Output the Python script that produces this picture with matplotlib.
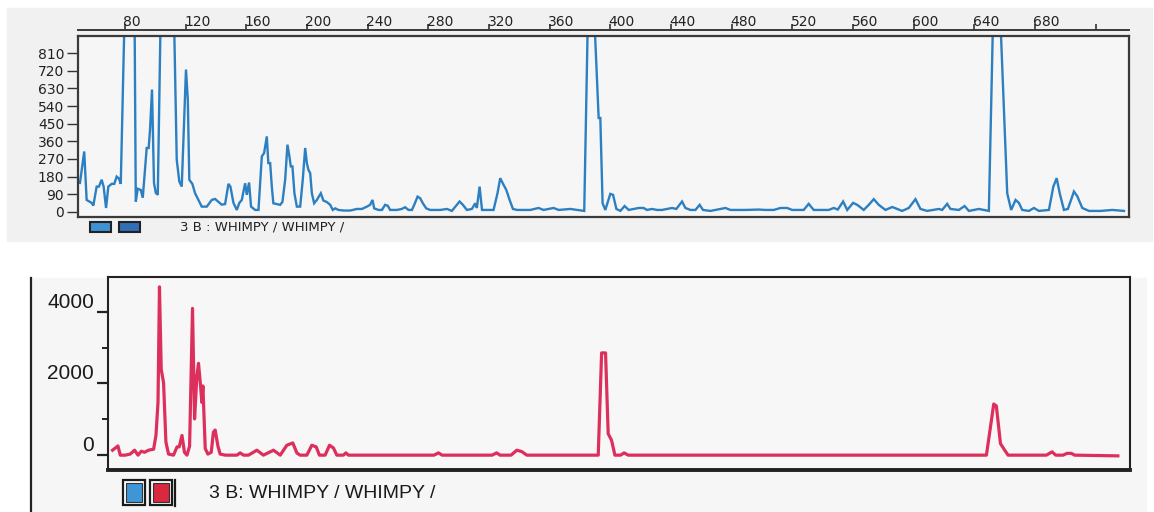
import matplotlib
matplotlib.use("Agg")
import matplotlib.pyplot as plt
from matplotlib.patches import Rectangle
from matplotlib.lines import Line2D

# blue channel (top trace), size in bp and signal (off-scale peaks clipped by the axis)
top_bp = [50.3, 53.1, 54.7, 58.0, 59.1, 61.3, 62.8, 64.6, 65.9, 67.5, 69.0, 71.2, 72.9, 74.5, 76.0, 77.2,
          79.7, 86.3, 87.1, 88.4, 90.4, 91.7, 93.2, 94.3, 95.6, 96.5, 97.8, 99.1, 100.3, 101.6,
          103.5, 112.3, 114.1, 115.8, 117.4, 120.2, 121.4, 122.4, 124.4, 126.2, 128.4, 130.6, 133.9,
          137.2, 139.4, 141.6, 143.8, 146.0, 148.2, 149.5, 151.5, 153.7, 155.4, 157.0, 159.2, 160.3,
          161.8, 163.1, 165.8, 168.0, 170.2, 171.7, 173.5, 174.5, 175.7, 176.8, 177.8, 180.1, 182.3,
          183.8, 185.6, 187.1, 188.4, 189.3, 190.4, 191.7, 193.3, 195.5, 197.2, 198.8, 199.9, 200.9,
          202.1, 203.2, 204.7, 206.5, 209.1, 210.8, 213.1, 215.3, 217.0, 218.6, 220.7, 224.0, 228.5,
          232.9, 236.2, 239.5, 241.6, 243.2, 244.3, 247.1, 249.4, 251.5, 253.3, 254.8, 259.3, 262.5,
          264.7, 266.9, 269.2, 270.7, 272.9, 274.6, 276.4, 278.6, 281.2, 287.8, 292.3, 295.5, 300.6,
          302.8, 305.4, 308.7, 310.9, 312.0, 313.8, 315.4, 323.0, 325.6, 327.4, 329.6, 331.4, 333.6,
          335.8, 338.5, 342.8, 347.2, 352.7, 356.0, 362.6, 365.9, 373.6, 378.0, 382.8, 385.2, 389.4,
          392.3, 393.4, 394.9, 396.7, 400.0, 401.8, 404.0, 406.6, 409.4, 412.1, 415.4, 418.7, 422.0,
          424.2, 427.5, 430.8, 434.1, 437.4, 440.7, 443.5, 447.3, 449.5, 452.8, 456.1, 458.9, 461.1,
          466.0, 472.6, 475.9, 479.2, 489.1, 497.9, 502.3, 507.7, 512.2, 516.6, 519.9, 527.5, 530.8,
          534.1, 544.0, 547.3, 550.0, 553.5, 556.2, 560.1, 562.8, 567.1, 570.4, 573.7, 577.0, 581.4,
          585.9, 589.1, 592.4, 596.8, 601.2, 604.5, 608.9, 616.6, 618.8, 622.1, 624.3, 629.8, 633.6,
          636.4, 643.0, 646.3, 649.6, 652.4, 657.1, 661.7, 664.3, 667.2, 669.4, 671.6, 676.0, 679.3,
          682.6, 689.2, 692.1, 694.3, 696.4, 699.1, 701.7, 705.7, 707.9, 711.2, 715.6, 723.3, 731.0,
          738.7]
top_signal = [148, 308, 61, 46, 32, 129, 129, 164, 129, 20, 129, 143, 143, 180, 170, 143,
              1000, 1000, 53, 118, 112, 72, 215, 326, 326, 420, 624, 148, 97, 87,
              1000, 1000, 266, 155, 129, 726, 573, 164, 143, 95, 61, 27, 27,
              61, 66, 51, 37, 40, 143, 129, 46, 10, 46, 61, 146, 87,
              150, 27, 10, 10, 283, 300, 385, 249, 249, 129, 44, 40, 36,
              51, 164, 343, 283, 232, 232, 95, 27, 27, 164, 326, 249, 215,
              198, 95, 44, 61, 95, 58, 50, 36, 10, 18, 10, 7, 7,
              15, 15, 27, 36, 61, 18, 10, 10, 36, 31, 10, 10, 15,
              24, 10, 10, 36, 78, 70, 44, 18, 10, 10, 15, 5, 53,
              36, 10, 15, 44, 20, 129, 10, 10, 95, 172, 138, 112, 61,
              15, 10, 10, 10, 20, 10, 20, 10, 15, 10, 5, 1000, 1000,
              479, 479, 44, 10, 92, 87, 15, 5, 30, 10, 15, 20, 20,
              10, 15, 10, 10, 15, 20, 15, 53, 20, 10, 10, 36, 10,
              5, 15, 20, 10, 10, 12, 10, 10, 20, 20, 10, 10, 41,
              10, 10, 20, 12, 53, 10, 46, 36, 10, 36, 65, 36, 10,
              25, 15, 5, 20, 65, 15, 5, 15, 10, 41, 15, 10, 30,
              5, 15, 10, 5, 1000, 1000, 95, 10, 61, 46, 10, 5, 20,
              5, 10, 129, 172, 92, 10, 15, 104, 80, 20, 5, 5, 10,
              5]

# red channel (bottom trace)
bottom_bp = [52.1, 55.8, 57.4, 60.8, 64.2, 67.2, 69.5, 71.8, 74.0, 76.7, 80.2, 81.8, 83.2, 84.2,
             85.4, 87.0, 88.6, 90.4, 93.8, 96.2, 97.7, 99.6, 101.3, 103.0, 104.8, 106.8, 108.2,
             109.8, 110.9, 112.3, 113.2, 113.9, 115.5, 117.3, 119.6, 121.1, 122.3, 124.2, 125.7,
             129.2, 133.7, 137.2, 139.4, 141.7, 145.1, 150.8, 155.3, 162.2, 166.8, 171.3, 175.4,
             178.2, 180.4, 185.0, 188.4, 191.4, 193.6, 197.5, 200.5, 203.2, 205.5, 210.0, 211.7,
             213.4, 272.0, 275.0, 277.5, 311.7, 314.8, 317.1, 324.7, 328.6, 332.0, 335.4, 384.3,
             386.6, 389.3, 391.1, 393.4, 395.7, 399.6, 402.0, 404.8, 649.8, 654.8, 656.6, 659.4,
             662.3, 664.6, 690.8, 694.7, 697.2, 702.2, 704.9, 707.9, 710.1, 739.7]
bottom_signal = [138, 257, 0, 0, 30, 138, 0, 110, 80, 138, 166, 552, 1470, 4690,
                 2390, 2020, 370, 30, 0, 230, 230, 550, 80, 0, 250, 4090, 1010,
                 2210, 2560, 1930, 1470, 1930, 185, 30, 80, 643, 700, 250, 30,
                 0, 0, 0, 63, 0, 0, 138, 0, 138, 0, 276, 340,
                 60, 0, 0, 276, 230, 0, 0, 276, 200, 0, 0, 63,
                 0, 0, 63, 0, 0, 63, 0, 0, 138, 100, 0, 0,
                 2850, 2850, 600, 414, 0, 0, 63, 0, 0, 1425, 1370, 322,
                 138, 0, 0, 92, 0, 0, 50, 50, 0, -20]

top_yticks = [0, 90, 180, 270, 360, 450, 540, 630, 720, 810]
top_xticks = [80, 120, 160, 200, 240, 280, 320, 360, 400, 440, 480, 520, 560, 600, 640, 680, 720]
top_xlabels = ["80", "120", "160", "200", "240", "280", "320", "360", "400", "440", "480",
               "520", "560", "600", "640", "680", ""]
bottom_yticks = [0, 2000, 4000]
legend_text = "3 B : WHIMPY / WHIMPY /"

W, H = 1154, 512


def fx(x):
    return x / W


def fy(y):
    return 1 - y / H


fig = plt.figure(figsize=(W / 100, H / 100), dpi=100)
fig.patch.set_facecolor("white")

# scanned paper areas
fig.add_artist(Rectangle((fx(7), fy(241)), fx(1152) - fx(7), fy(8) - fy(241),
                         transform=fig.transFigure, color="#f1f1f1", zorder=0))
fig.add_artist(Rectangle((fx(31), fy(512)), fx(1146) - fx(31), fy(278) - fy(512),
                         transform=fig.transFigure, color="#f6f6f6", zorder=0))
fig.add_artist(Line2D([fx(31), fx(31)], [fy(278), fy(512)], transform=fig.transFigure,
                      color="#222222", lw=1.6))

# ---- top panel ----
ax1 = fig.add_axes([fx(78), fy(217), fx(1129) - fx(78), fy(36) - fy(217)])
ax1.set_facecolor("#f6f6f6")
ax1.plot(top_bp, top_signal, color="#2c7fc1", lw=1.7, solid_joinstyle="miter")
ax1.set_xlim(49, 742)
ax1.set_ylim(-26, 897)
ax1.set_yticks(top_yticks)
ax1.set_yticklabels([str(v) for v in top_yticks], fontsize=10, family="DejaVu Sans", color="#222222")
ax1.tick_params(axis="y", length=8, width=1, pad=2, color="#333333")
for s in ax1.spines.values():
    s.set_color("#3a3a3a")
    s.set_linewidth(1.6)

# size scale sits on a separate line just above the frame, labels start at the tick
ax1.xaxis.tick_top()
ax1.set_xticks(top_xticks)
ax1.tick_params(axis="x", length=4, width=1.2, color="#333333", labeltop=False)
ax1.spines["top"].set_position(("outward", 4))
ax1.spines["top"].set_linewidth(1.4)
ax1.plot([0, 1], [1, 1], transform=ax1.transAxes, clip_on=False, color="#3a3a3a", lw=1.6)
for xv, lab in zip(top_xticks, top_xlabels):
    ax1.text(xv - 1, 1.077, lab, transform=ax1.get_xaxis_transform(), fontsize=10,
             ha="left", va="center", color="#222222")

# legend boxes + sample name
for x0, c in [(90, "#3d92d4"), (119, "#2e6fb5")]:
    fig.add_artist(Rectangle((fx(x0), fy(232)), fx(21), 10 / H, transform=fig.transFigure,
                             facecolor=c, edgecolor="#222222", lw=1.5))
fig.text(fx(180), fy(227), legend_text, fontsize=9.5, va="center", ha="left", color="#222222")

# ---- bottom panel ----
ax2 = fig.add_axes([fx(108), fy(470), fx(1130) - fx(108), fy(277) - fy(470)])
ax2.set_facecolor("#f7f7f7")
ax2.plot(bottom_bp, bottom_signal, color="#dc2f5c", lw=2.3)
ax2.set_xlim(49, 748)
ax2.set_ylim(-414, 4966)
ax2.set_xticks([])
ax2.set_yticks(bottom_yticks)
ax2.set_yticks([1000, 3000], minor=True)
ax2.set_yticklabels([str(v) for v in bottom_yticks], fontsize=15, family="Liberation Sans",
                    color="#1a1a1a", va="bottom")
ax2.tick_params(axis="y", which="major", length=8, width=1.6, pad=2, color="#222222")
ax2.tick_params(axis="y", which="minor", length=4, width=1.4, color="#222222")
for s in ax2.spines.values():
    s.set_color("#222222")
    s.set_linewidth(1.5)
ax2.spines["bottom"].set_linewidth(2.8)

for x0, c in [(123, "#3f96d6"), (150, "#d9283f")]:
    fig.add_artist(Rectangle((fx(x0), fy(505)), fx(22), 25 / H, transform=fig.transFigure,
                             facecolor="white", edgecolor="#1a1a1a", lw=1.6))
    fig.add_artist(Rectangle((fx(x0 + 3), fy(502)), fx(16), 19 / H, transform=fig.transFigure,
                             facecolor=c, edgecolor="#333333", lw=0.8))
fig.add_artist(Line2D([fx(175), fx(175)], [fy(480), fy(506)], transform=fig.transFigure,
                      color="#1a1a1a", lw=1.6))
fig.text(fx(209), fy(493), legend_text.replace("B :", "B:"), fontsize=14, family="Liberation Sans",
         va="center", ha="left", color="#1a1a1a")

fig.savefig("out.png", dpi=100)
